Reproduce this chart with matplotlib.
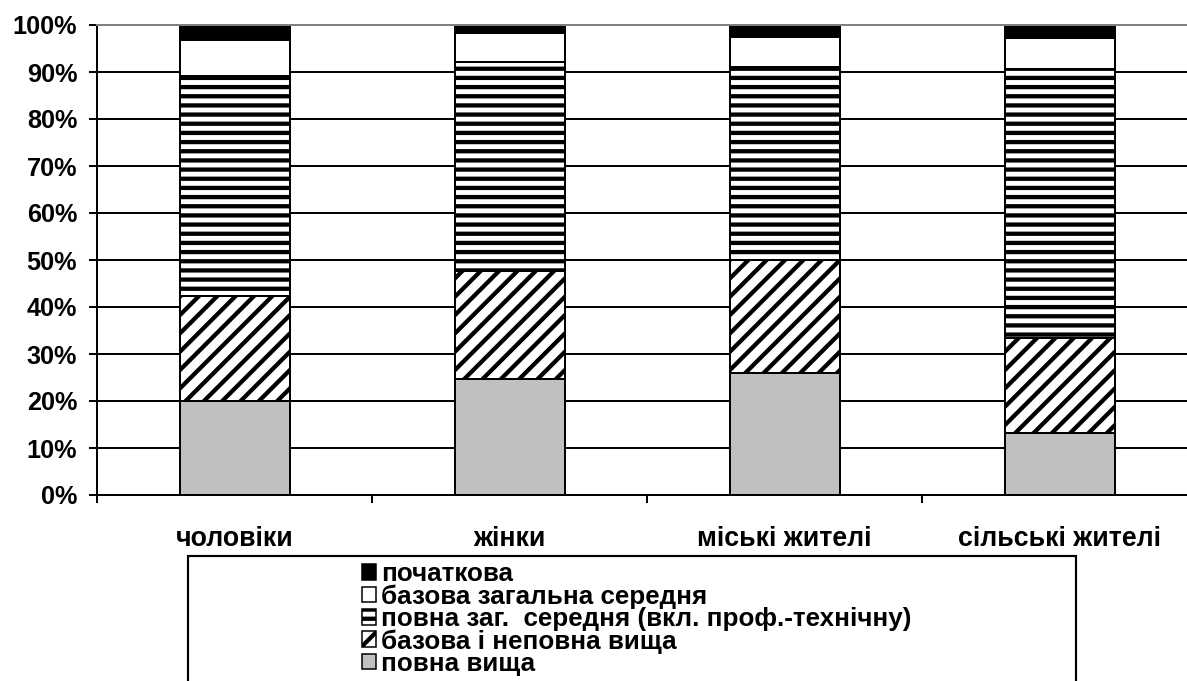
import matplotlib
matplotlib.use("Agg")
import matplotlib.pyplot as plt
from matplotlib.patches import Rectangle, Patch
import numpy as np

categories = ["чоловіки", "жінки", "міські жителі", "сільські жителі"]
series_names = ["повна вища", "базова і неповна вища",
                "повна заг.  середня (вкл. проф.-технічну)",
                "базова загальна середня", "початкова"]
povna_vyshcha = [19.9, 24.6, 25.9, 13.1]
bazova_nepovna_vyshcha = [22.4, 23.1, 24.2, 20.2]
povna_zag_serednia = [46.8, 44.4, 40.9, 57.3]
bazova_zag_serednia = [7.7, 6.1, 6.5, 6.6]
pochatkova = [3.2, 1.8, 2.5, 2.8]
y_ticks = [0, 10, 20, 30, 40, 50, 60, 70, 80, 90, 100]

series = [povna_vyshcha, bazova_nepovna_vyshcha, povna_zag_serednia,
          bazova_zag_serednia, pochatkova]
styles = [dict(facecolor="#c0c0c0", hatch=None),
          dict(facecolor="white", hatch="//"),
          dict(facecolor="white", hatch="--"),
          dict(facecolor="white", hatch=None),
          dict(facecolor="black", hatch=None)]

DPI = 110
W, H = 1187, 681
plt.rcParams["font.family"] = ["Liberation Sans", "DejaVu Sans"]
plt.rcParams["font.weight"] = "bold"
plt.rcParams["hatch.linewidth"] = 2.8
plt.rcParams["hatch.color"] = "black"

fig = plt.figure(figsize=(W / DPI, H / DPI), dpi=DPI)
ax = fig.add_axes([97 / W, (H - 495) / H, 1100 / W, 470 / H])

x = np.arange(len(categories))
bottom = np.zeros(len(categories))
handles = []
for name, vals, st in zip(series_names, series, styles):
    ax.bar(x, vals, width=0.4, bottom=bottom, facecolor=st["facecolor"],
           edgecolor="black", linewidth=1.3, hatch=st["hatch"], zorder=3)
    bottom += np.array(vals)
    handles.append(Patch(facecolor=st["facecolor"], edgecolor="black",
                         linewidth=1.0, hatch=st["hatch"], label=name))

ax.set_xlim(-0.5, 3.5)
ax.set_ylim(0, 100)
ax.set_yticks(y_ticks)
ax.set_yticklabels([f"{t}%" for t in y_ticks])
ax.set_xticks(x)
ax.set_xticklabels(categories)
ax.set_xticks(np.arange(-0.5, 3.6, 1.0), minor=True)
ax.tick_params(axis="x", which="major", length=0, pad=20, labelsize=17.5)
ax.tick_params(axis="x", which="minor", length=5, width=1.3, direction="out")
ax.tick_params(axis="y", length=5, width=1.3, direction="out", pad=8,
               labelsize=16.5)
ax.yaxis.grid(True, color="black", linewidth=1.3, zorder=0)
ax.set_axisbelow(True)
for s in ["left", "bottom"]:
    ax.spines[s].set_linewidth(1.3)
    ax.spines[s].set_color("black")
ax.spines["top"].set_color("#808080")
ax.spines["top"].set_linewidth(1.3)
ax.spines["right"].set_color("#808080")
ax.spines["top"].set_zorder(4)

# legend frame
fig.patches.append(Rectangle((188 / W, 0 - 0.05), (1076 - 188) / W,
                             (H - 556) / H + 0.05, transform=fig.transFigure,
                             facecolor="white", edgecolor="black",
                             linewidth=1.4, zorder=1))
leg = fig.legend(handles=handles[::-1], loc="upper center",
                 bbox_to_anchor=(637 / W, (H - 562) / H), frameon=False,
                 fontsize=17, labelspacing=-0.07, handlelength=0.52,
                 handleheight=0.56, handletextpad=0.2, borderpad=0,
                 borderaxespad=0)
leg.set_zorder(5)

fig.savefig("out.png", dpi=DPI)
